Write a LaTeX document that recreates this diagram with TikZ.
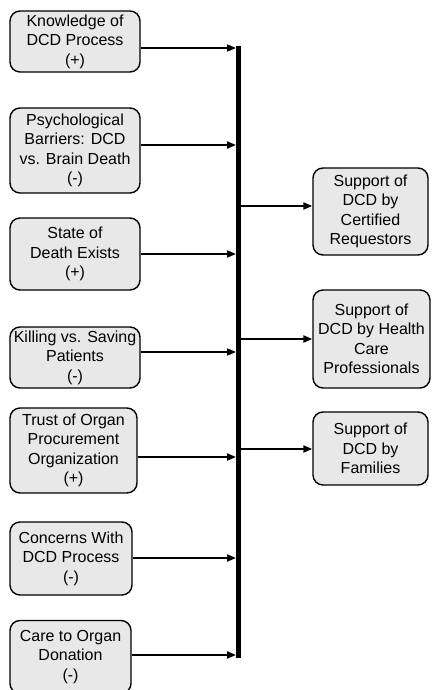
\documentclass[tikz,border=0pt]{standalone}
\usepackage{fontspec}
\setmainfont{Liberation Sans}
\usetikzlibrary{arrows.meta}
\begin{document}
\begin{tikzpicture}[x=1pt,y=-1pt,
  box/.style={draw=black, line width=1.4pt, fill=black!9, rounded corners=10pt,
    align=center, inner sep=0pt, font=\fontsize{16}{19.5}\selectfont},
  arr/.style={line width=2pt, -{Triangle[length=9pt,width=7pt]}, shorten >=0pt}]
\useasboundingbox (0,0) rectangle (432,690);
% left boxes
\node[box, minimum width=130pt, minimum height=61pt] (l1) at (75,41.5) {Knowledge of\\DCD Process\\(+)};
\node[box, minimum width=130pt, minimum height=85pt] (l2) at (75,150.5) {Psychological\\Barriers: DCD\\vs. Brain Death\\(-)};
\node[box, minimum width=130pt, minimum height=72pt] (l3) at (75,254) {State of\\Death Exists\\(+)};
\node[box, minimum width=130pt, minimum height=61pt] (l4) at (75,357.5) {Killing vs. Saving\\Patients\\(-)};
\node[box, minimum width=127pt, minimum height=85pt] (l5) at (73.5,450.5) {Trust of Organ\\Procurement\\Organization\\(+)};
\node[box, minimum width=122pt, minimum height=73pt] (l6) at (71,558.5) {Concerns With\\DCD Process\\(-)};
\node[box, minimum width=121pt, minimum height=73pt] (l7) at (70.5,657) {Care to Organ\\Donation\\(-)};
% right boxes
\node[box, minimum width=115pt, minimum height=87pt] (r1) at (370.5,211.5) {Support of\\DCD by\\Certified\\Requestors};
\node[box, minimum width=117pt, minimum height=98pt] (r2) at (371.5,339) {Support of\\DCD by Health\\Care\\Professionals};
\node[box, minimum width=115pt, minimum height=73pt] (r3) at (370.5,448.5) {Support of\\DCD by\\Families};
% bar
\coordinate (bt) at (238.5,46);
\coordinate (bb) at (238.5,658);
\draw[line width=5pt] (bt) -- (bb);
% inputs
\coordinate (i1) at (236,48);
\coordinate (i2) at (236,145);
\coordinate (i3) at (236,254);
\coordinate (i4) at (236,352);
\coordinate (i5) at (236,457);
\coordinate (i6) at (236,558);
\coordinate (i7) at (236,655);
\foreach \k in {1,...,7}{\draw[arr] (l\k.east |- i\k) -- (i\k);}
% outputs
\coordinate (o1) at (241,206);
\coordinate (o2) at (241,339);
\coordinate (o3) at (241,449);
\foreach \k in {1,2,3}{\draw[arr] (o\k) -- (r\k.west |- o\k);}
\end{tikzpicture}
\end{document}
